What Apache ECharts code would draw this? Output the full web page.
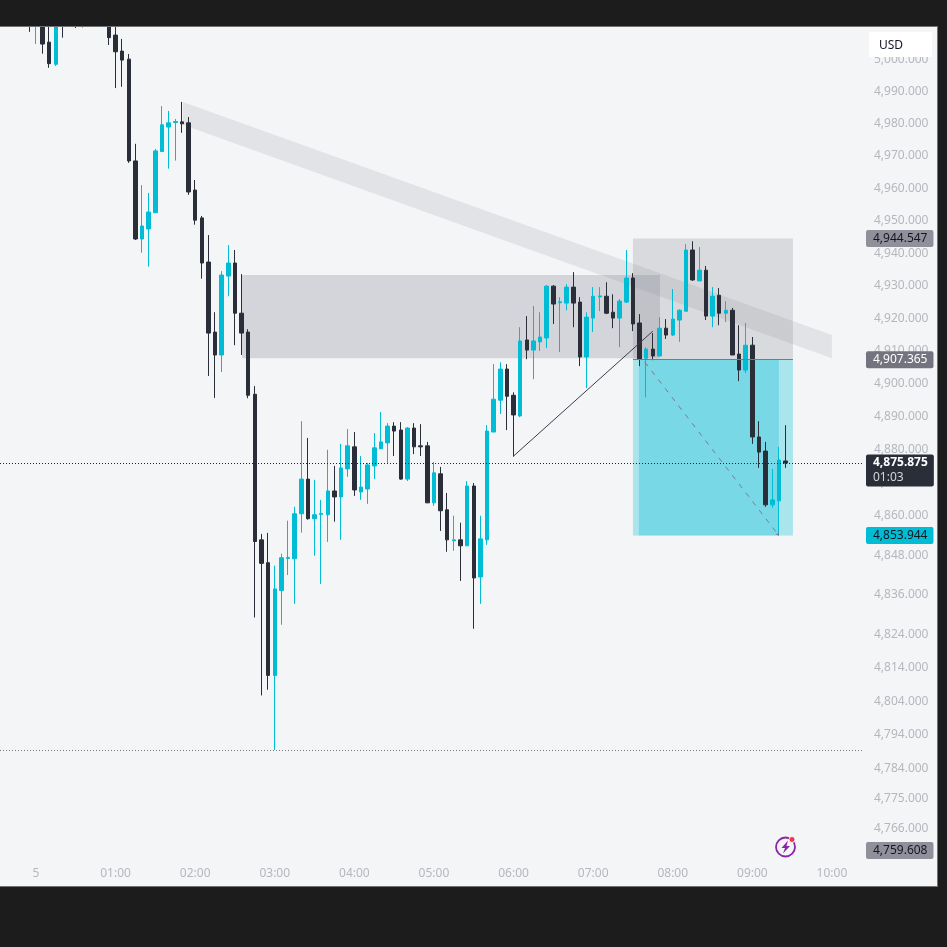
<!DOCTYPE html>
<html>
<head>
<meta charset="utf-8">
<title>5 minute chart</title>
<script src="https://cdn.jsdelivr.net/npm/echarts@6/dist/echarts.min.js"></script>
<style>
  html, body { margin: 0; padding: 0; background: #1c1c1c; }
  #pane { position: absolute; left: -1px; top: 26px; width: 937px; height: 859px; background: #f4f5f7; border: 1px solid #6f7072; }
  #chart { position: absolute; left: 0; top: 0; width: 947px; height: 947px; }
</style>
</head>
<body>
<div id="pane"></div>
<div id="chart"></div>
<script>
// 5 minute bars, the first one at 23:55 (minutes are counted from 00:00)
var firstBarMinute = -5;
var barStep = 5;
var opens = [5022, 5012, 5016, 5005.4, 4998.5, 5020, 5026, 5022, 5014, 5020, 5026, 5021, 5012, 5007.6, 5002.6, 5000.1, 4968.5, 4944.4, 4947.5, 4952.5, 4971.4, 4979.0, 4980.4, 4980.6, 4980.3, 4959.5, 4950.9, 4937.3, 4915.8, 4908.8, 4933.0, 4937.0, 4921.6, 4915.8, 4896.8, 4852.6, 4845.7, 4811.8, 4837.3, 4847.0, 4846.9, 4860.5, 4871.0, 4859.0, 4860.3, 4860.2, 4867.4, 4865.6, 4874.1, 4880.8, 4867.1, 4868.0, 4875.0, 4880.2, 4882.0, 4887.1, 4885.9, 4871.0, 4886.5, 4881.1, 4881.1, 4863.8, 4872.6, 4861.7, 4852.3, 4852.6, 4850.8, 4868.9, 4841.4, 4852.6, 4885.3, 4895.0, 4904.5, 4896.5, 4890.2, 4913.4, 4910.3, 4912.8, 4914.0, 4929.9, 4924.8, 4924.7, 4929.6, 4925.0, 4908.2, 4920.1, 4926.6, 4926.8, 4921.9, 4920.1, 4925.0, 4932.4, 4918.6, 4907.8, 4910.6, 4908.5, 4917.0, 4914.9, 4919.5, 4922.2, 4941.0, 4931.5, 4934.8, 4920.7, 4927.1, 4921.6, 4922.5, 4909.1, 4904.2, 4911.8, 4883.8, 4879.5, 4863.2, 4864.4, 4876.5];
var closes = [5014, 5020, 5004.8, 4998.7, 5015, 5014, 5020, 5016, 5020, 5026, 5021, 5011, 5006.8, 5002.4, 4999.8, 4968.5, 4944.4, 4948.4, 4952.7, 4971.6, 4979.7, 4980.3, 4980.7, 4980.0, 4958.9, 4950.2, 4937.0, 4915.5, 4908.8, 4933.3, 4937.0, 4921.6, 4915.5, 4896.5, 4852.1, 4845.5, 4811.8, 4837.8, 4847.2, 4847.3, 4860.5, 4871.0, 4859.0, 4860.2, 4860.6, 4867.4, 4865.6, 4874.4, 4881.1, 4867.7, 4868.6, 4875.3, 4880.5, 4882.3, 4887.1, 4885.6, 4871.0, 4886.5, 4880.8, 4880.8, 4863.8, 4872.9, 4861.4, 4852.6, 4852.6, 4850.8, 4868.9, 4841.1, 4852.9, 4885.6, 4895.3, 4904.5, 4896.2, 4890.5, 4913.1, 4910.3, 4913.1, 4914.3, 4929.9, 4924.4, 4925.1, 4929.6, 4924.7, 4908.2, 4920.4, 4926.8, 4926.9, 4921.6, 4920.1, 4925.3, 4932.4, 4918.3, 4907.5, 4910.6, 4908.5, 4917.0, 4914.9, 4919.8, 4922.5, 4941.0, 4931.8, 4934.8, 4920.7, 4926.8, 4921.6, 4922.5, 4908.8, 4904.2, 4911.8, 4883.8, 4879.2, 4863.2, 4864.7, 4876.8, 4875.875];
var lows = [5008.6, 5004.8, 5001.8, 4997.4, 4998.0, 5006.8, 5014, 5009.8, 5009.9, 5016, 5017, 5011, 5004.5, 4991.1, 4991.5, 4967.9, 4944.1, 4940.2, 4935.9, 4952.5, 4971.4, 4966.1, 4968.6, 4977.2, 4958.0, 4948.8, 4932.2, 4902.4, 4895.7, 4903.6, 4926.8, 4911.8, 4908.8, 4895.6, 4829.2, 4805.8, 4807.5, 4789.5, 4827.0, 4842.0, 4833.3, 4854.8, 4858.7, 4847.8, 4839.3, 4852.0, 4858.1, 4852.6, 4871.7, 4865.9, 4864.7, 4863.5, 4871.0, 4880.2, 4875.9, 4878.0, 4870.8, 4870.4, 4878.6, 4878.0, 4863.8, 4862.9, 4855.3, 4849.0, 4849.3, 4840.2, 4850.8, 4825.8, 4833.3, 4851.1, 4885.3, 4890.8, 4885.9, 4877.8, 4889.8, 4907.5, 4901.4, 4910.0, 4910.9, 4918.3, 4909.7, 4922.5, 4917.3, 4905.4, 4898.7, 4915.8, 4922.2, 4921.3, 4917.0, 4911.2, 4924.7, 4916.1, 4905.4, 4895.9, 4907.2, 4908.5, 4913.7, 4914.6, 4912.8, 4922.2, 4931.5, 4931.5, 4919.5, 4917.3, 4917.9, 4918.9, 4908.8, 4900.8, 4903.3, 4881.7, 4874.4, 4862.6, 4862.3, 4853.9, 4874.4];
var highs = [5026, 5026, 5020, 5013, 5018, 5024, 5029, 5026, 5024, 5029, 5030, 5024, 5017, 5015, 5006.4, 5001.7, 4973.8, 4961.0, 4958.6, 4972.2, 4985.5, 4984.0, 4981.5, 4986.8, 4982.1, 4962.6, 4951.5, 4945.6, 4921.9, 4934.5, 4942.5, 4941.0, 4933.6, 4916.7, 4899.3, 4854.4, 4854.7, 4844.8, 4848.4, 4858.4, 4862.6, 4888.6, 4883.5, 4870.8, 4864.7, 4879.9, 4875.0, 4881.7, 4886.2, 4885.3, 4878.0, 4875.9, 4885.0, 4891.4, 4888.0, 4888.3, 4888.3, 4886.8, 4888.0, 4887.7, 4882.3, 4876.2, 4874.7, 4866.8, 4859.9, 4857.8, 4870.4, 4869.8, 4859.9, 4887.4, 4906.0, 4906.6, 4906.0, 4897.4, 4917.3, 4920.7, 4923.8, 4921.9, 4930.2, 4930.2, 4926.5, 4930.5, 4934.2, 4926.5, 4921.9, 4929.6, 4929.6, 4931.1, 4927.4, 4925.9, 4941.0, 4933.9, 4921.3, 4911.2, 4915.5, 4920.4, 4919.8, 4929.0, 4922.8, 4942.8, 4943.7, 4941.9, 4936.1, 4929.6, 4929.3, 4925.3, 4923.2, 4917.9, 4918.6, 4914.3, 4888.6, 4882.3, 4874.1, 4880.8, 4887.4];

// price scale ticks
var priceTicks = [5000, 4990, 4980, 4970, 4960, 4950, 4940, 4930, 4920, 4910, 4900, 4890, 4880, 4870, 4860, 4848, 4836, 4824, 4814, 4804, 4794, 4784, 4775, 4766];
var hourTicks = [0, 60, 120, 180, 240, 300, 360, 420, 480, 540, 600];
var priceMin = 4756.2;
var priceMax = 5010.12;
var minuteMin = -27.1;
var minuteMax = 623.4;

// price tags on the right
var lastPrice = 4875.875;
var lastCountdown = '01:03';
var stopPrice = 4944.547;
var entryPrice = 4907.365;
var targetPrice = 4853.944;
var bottomPrice = 4759.608;
var dayLow = 4789.5;

// drawings: [minute, price]
var supplyMinutes = [155.3, 470.4];
var supplyPrices = [4933.3, 4907.8];
var positionMinutes = [450, 570.6];
var positionInnerMinutes = [454.5, 560];
var bandMinutes = [110.8, 600];
var bandUpper = [4986.8, 4914.9];
var bandLower = [4979.7, 4907.8];
var legLine = [[360, 4878.0], [465, 4916.1]];
var dashLine = [[459, 4906.6], [560, 4853.9]];

var upColor = '#00bcd4';
var downColor = '#2a2e39';
var axisColor = '#b5b7be';
var frameColor = '#1c1c1c';
var fontName = '"Noto Sans", sans-serif';

function money(v) {
  return v.toLocaleString('en-US', { minimumFractionDigits: 3, maximumFractionDigits: 3 });
}
function hourLabel(m) {
  if (m === 0) return '5';
  var h = Math.round(m / 60);
  return (h < 10 ? '0' : '') + h + ':00';
}

var rows = opens.map(function (o, i) {
  return [firstBarMinute + i * barStep, o, closes[i], lows[i], highs[i]];
});

function tag(value, bg, color) {
  return {
    yAxis: value,
    lineStyle: { color: 'rgba(0,0,0,0)', width: 0 },
    label: {
      show: true, position: 'end', distance: 3,
      formatter: money(value),
      color: color, backgroundColor: bg, borderRadius: 2,
      padding: [2, 6, 2, 7], fontSize: 12, lineHeight: 13, fontFamily: fontName
    }
  };
}
function zone(xs, ys, color) {
  return [
    { coord: [xs[0], ys[0]], itemStyle: { color: color } },
    { coord: [xs[1], ys[1]] }
  ];
}

var myChart = echarts.init(document.getElementById('chart'), null, { renderer: 'canvas' });
var option = {
  animation: false,
  grid: { left: 0, top: 27, width: 863, height: 835 },
  xAxis: {
    type: 'value', min: minuteMin, max: minuteMax,
    axisLine: { show: false }, axisTick: { show: false }, splitLine: { show: false },
    axisLabel: {
      customValues: hourTicks, formatter: hourLabel, margin: 6,
      color: axisColor, fontSize: 12, fontFamily: fontName
    }
  },
  yAxis: {
    type: 'log', logBase: 10, position: 'right', min: priceMin, max: priceMax,
    axisLine: { show: false }, axisTick: { show: false }, splitLine: { show: false },
    axisLabel: {
      customValues: priceTicks, formatter: money, margin: 11,
      color: axisColor, fontSize: 12, fontFamily: fontName
    }
  },
  series: [
    {
      type: 'custom', name: 'trend band', z: 1, silent: true,
      coordinateSystem: 'cartesian2d', data: [0],
      encode: { x: [], y: [] },
      renderItem: function (params, api) {
        return {
          type: 'polygon',
          shape: { points: [
            api.coord([bandMinutes[0], bandUpper[0]]),
            api.coord([bandMinutes[1], bandUpper[1]]),
            api.coord([bandMinutes[1], bandLower[1]]),
            api.coord([bandMinutes[0], bandLower[0]])
          ] },
          style: { fill: 'rgba(120,123,134,0.14)' }
        };
      }
    },
    {
      type: 'candlestick', name: 'price', barWidth: 4,
      data: rows, encode: { x: 0, y: [1, 2, 3, 4] },
      itemStyle: { color: upColor, color0: downColor, borderColor: upColor, borderColor0: downColor, borderWidth: 1 },
      markArea: {
        silent: true,
        data: [
          zone(supplyMinutes, supplyPrices, 'rgba(120,123,134,0.26)'),
          zone(positionMinutes, [stopPrice, entryPrice], 'rgba(120,123,134,0.22)'),
          zone(positionMinutes, [entryPrice, targetPrice], 'rgba(0,188,212,0.3)'),
          zone(positionInnerMinutes, [entryPrice, targetPrice], 'rgba(0,188,212,0.3)')
        ]
      },
      markLine: {
        silent: true, symbol: 'none', animation: false,
        data: [
          { yAxis: dayLow, label: { show: false }, lineStyle: { type: [1, 2], width: 1, color: '#787b86' } },
          {
            yAxis: lastPrice,
            lineStyle: { type: [1, 2], width: 1, color: '#1e222d' },
            label: {
              show: true, position: 'end', distance: 3, offset: [0, 7.5],
              formatter: '{p|' + money(lastPrice) + '}\n{t|' + lastCountdown + '}',
              backgroundColor: downColor, borderRadius: 2, padding: [1, 6, 1, 7],
              rich: {
                p: { color: '#ffffff', fontSize: 12, lineHeight: 15, fontWeight: 'bold', fontFamily: fontName },
                t: { color: '#d4d5da', fontSize: 12, lineHeight: 15, fontFamily: fontName }
              }
            }
          },
          tag(stopPrice, '#8f909a', '#131722'),
          tag(entryPrice, '#73747f', '#ffffff'),
          tag(targetPrice, upColor, '#131722'),
          tag(bottomPrice, '#8f909a', '#131722'),
          [
            { coord: [positionMinutes[0], entryPrice], lineStyle: { type: 'solid', width: 1, color: '#787b86' }, label: { show: false } },
            { coord: [positionMinutes[1], entryPrice] }
          ],
          [
            { coord: legLine[0], lineStyle: { type: 'solid', width: 1, color: '#3a3d48' }, label: { show: false } },
            { coord: legLine[1] }
          ],
          [
            { coord: dashLine[0], symbol: 'none', lineStyle: { type: [5, 6], width: 1, color: '#787b86' }, label: { show: false } },
            { coord: dashLine[1], symbol: 'arrow', symbolSize: 3 }
          ]
        ]
      }
    }
  ],
  graphic: [
    // the top of the window hides whatever goes over the top of the pane
    {
      type: 'rect', z: 90, shape: { x: 0, y: 0, width: 947, height: 26 },
      style: { fill: frameColor }
    },
    {
      type: 'rect', z: 90, shape: { x: 0, y: 26, width: 937, height: 1 },
      style: { fill: '#6f7072' }
    },
    {
      type: 'rect', z: 100, shape: { x: 869, y: 32, width: 63, height: 25, r: 2 },
      style: { fill: '#ffffff' }
    },
    {
      type: 'text', z: 101, x: 879, y: 40,
      style: { text: 'USD', fill: '#131722', font: '12px ' + fontName }
    },
    {
      type: 'circle', z: 100, shape: { cx: 785.5, cy: 847, r: 9.5 },
      style: { fill: 'none', stroke: '#8e24aa', lineWidth: 1.8 }
    },
    {
      type: 'polygon', z: 100,
      shape: { points: [[788, 840.5], [781.5, 848], [785, 848], [783, 853.5], [790, 846], [786.5, 846]] },
      style: { fill: '#8e24aa' }
    },
    {
      type: 'circle', z: 101, shape: { cx: 792, cy: 839.5, r: 3 },
      style: { fill: '#f23645', stroke: '#f4f5f7', lineWidth: 1 }
    }
  ]
};
if (option && typeof option === 'object') {
  myChart.setOption(option, true);
}
</script>
</body>
</html>
